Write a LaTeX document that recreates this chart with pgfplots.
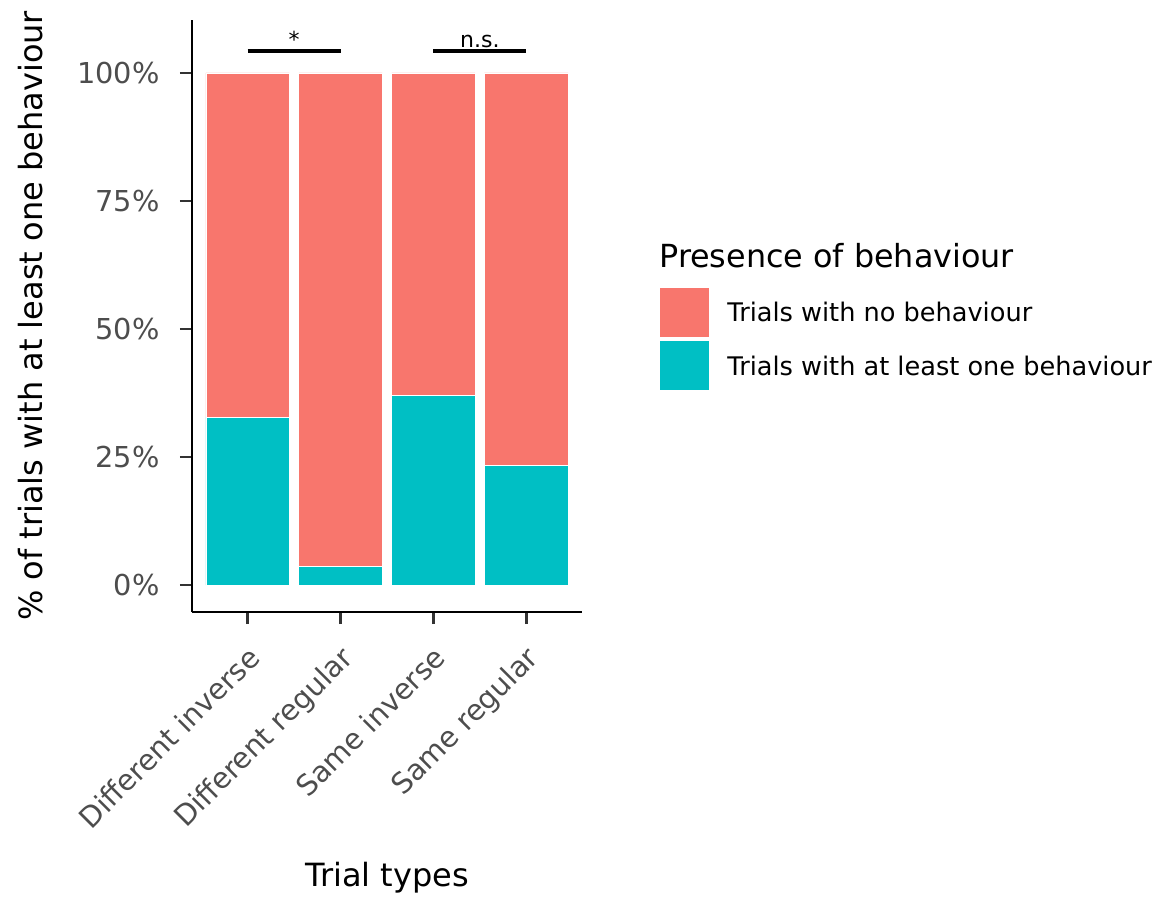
\documentclass[border=0pt]{standalone}
\usepackage{fontspec}
\setmainfont{DejaVu Sans}
\usepackage{pgfplots}
\pgfplotsset{compat=1.18}
\definecolor{cred}{HTML}{F8766D}
\definecolor{cteal}{HTML}{00BFC4}
\definecolor{gtick}{HTML}{333333}
\definecolor{glab}{HTML}{4D4D4D}
\begin{document}
\begin{tikzpicture}
\begin{axis}[
  scale only axis, width=195pt, height=296pt,
  xmin=0.4, xmax=4.6, ymin=-5.27, ymax=110.35,
  axis x line=bottom, axis y line=left,
  axis line style={-, line width=1.4pt, black},
  tick align=outside, major tick length=6pt,
  tick style={gtick, line width=1.4pt},
  xtick={1,2,3,4},
  xticklabels={Different inverse,Different regular,Same inverse,Same regular},
  ytick={0,25,50,75,100},
  yticklabels={0\%,25\%,50\%,75\%,100\%},
  yticklabel style={font=\fontsize{14.4}{16}\selectfont, text=glab, inner sep=0pt, xshift=-10pt},
  xticklabel style={font=\fontsize{14.4}{16}\selectfont, text=glab, inner sep=0pt, xshift=-0.7pt, yshift=-9.9pt, rotate=45, anchor=north east},
  ybar stacked, bar width=0.9,
  clip=false,
]
\addplot[fill=cteal, draw=white, line width=0.4pt] coordinates {(1,32.8) (2,3.7) (3,37.1) (4,23.4)};
\addplot[fill=cred, draw=white, line width=0.4pt] coordinates {(1,67.2) (2,96.3) (3,62.9) (4,76.6)};
\end{axis}
\begin{axis}[
  scale only axis, width=195pt, height=296pt,
  xmin=0.4, xmax=4.6, ymin=-5.27, ymax=110.35,
  hide axis, clip=false,
]
\addplot[black, line width=2pt] coordinates {(1,104.3) (2,104.3)};
\addplot[black, line width=2pt] coordinates {(3,104.3) (4,104.3)};
\node[anchor=south, inner sep=1pt, font=\fontsize{11}{13}\selectfont] at (axis cs:1.5,104.5) {*};
\node[anchor=south, inner sep=1pt, font=\fontsize{11}{13}\selectfont] at (axis cs:3.5,104.5) {n.s.};
\path (axis description cs:-0.4923,-0.4814) rectangle (axis description cs:2.4744,1.0338);
\node[rotate=90, font=\fontsize{16}{19}\selectfont] at (axis description cs:-0.415,0.5) {\% of trials with at least one behaviour};
\node[font=\fontsize{16}{19}\selectfont] at (axis description cs:0.5,-0.449) {Trial types};
\node[anchor=west, inner sep=0pt, font=\fontsize{15.9}{19}\selectfont] at (axis description cs:1.1974,0.6014) {Presence of behaviour};
\fill[cred] (axis description cs:1.2,0.5473) rectangle (axis description cs:1.3256,0.4645);
\fill[cteal] (axis description cs:1.2,0.4578) rectangle (axis description cs:1.3256,0.375);
\node[anchor=west, inner sep=0pt, font=\fontsize{12.8}{15}\selectfont] at (axis description cs:1.3718,0.5068) {Trials with no behaviour};
\node[anchor=west, inner sep=0pt, font=\fontsize{12.8}{15}\selectfont] at (axis description cs:1.3718,0.4155) {Trials with at least one behaviour};
\end{axis}
\end{tikzpicture}
\end{document}
